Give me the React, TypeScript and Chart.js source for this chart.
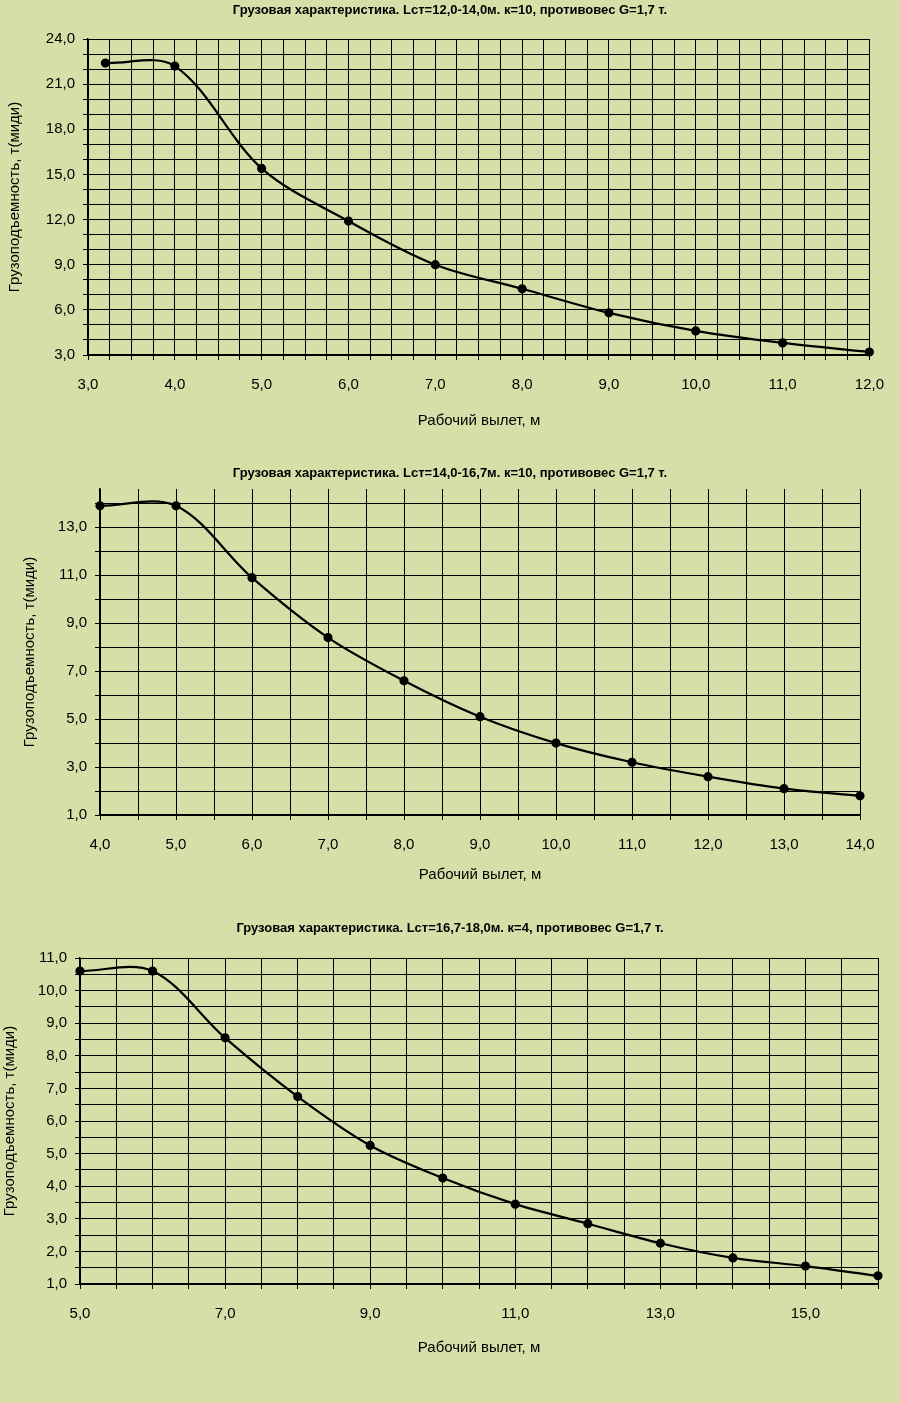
import React, { useEffect, useRef } from "react";
import { Chart, registerables } from "chart.js";
Chart.register(...registerables);

const BG = "#d8dea8";
const XTITLE = "Рабочий вылет, м";
const YTITLE = "Грузоподъемность, т(миди)";

const title1 = "Грузовая характеристика. Lст=12,0-14,0м. к=10, противовес G=1,7 т.";
const x1 = [3.2, 4, 5, 6, 7, 8, 9, 10, 11, 12];
const y1 = [22.4, 22.2, 15.4, 11.9, 9.0, 7.4, 5.8, 4.6, 3.8, 3.2];

const title2 = "Грузовая характеристика. Lст=14,0-16,7м. к=10, противовес G=1,7 т.";
const x2 = [4, 5, 6, 7, 8, 9, 10, 11, 12, 13, 14];
const y2 = [13.9, 13.9, 10.9, 8.4, 6.6, 5.1, 4.0, 3.2, 2.6, 2.1, 1.8];

const title3 = "Грузовая характеристика. Lст=16,7-18,0м. к=4, противовес G=1,7 т.";
const x3 = [5, 6, 7, 8, 9, 10, 11, 12, 13, 14, 15, 16];
const y3 = [10.6, 10.6, 8.55, 6.75, 5.25, 4.25, 3.45, 2.85, 2.25, 1.8, 1.55, 1.25];

type Cfg = {
  title: string; xs: number[]; ys: number[];
  top: number; height: number; pl: number; pr: number; pt: number; pb: number;
  xmin: number; xmax: number; xgrid: number; xlab: number;
  ymin: number; ymax: number; ygrid: number; ylab: number; ylabStart: number; ylabEnd: number;
  titleY: number; xTitleY: number; yTitleX: number;
};

const fmt = (v: number) => v.toFixed(1).replace(".", ",");

function Panel(c: Cfg) {
  const ref = useRef<HTMLCanvasElement>(null);
  useEffect(() => {
    const textPlugin = {
      id: "texts",
      afterDraw(ch: any) {
        const ctx = ch.ctx;
        ctx.save();
        ctx.fillStyle = "#000";
        ctx.textAlign = "center";
        ctx.textBaseline = "middle";
        ctx.font = "bold 13px Arial, 'Liberation Sans'";
        ctx.fillText(c.title, 450, c.titleY - c.top);
        ctx.font = "15px Arial, 'Liberation Sans'";
        ctx.fillText(XTITLE, (c.pl + c.pr) / 2, c.xTitleY - c.top);
        ctx.translate(c.yTitleX, (c.pt + c.pb) / 2 - c.top);
        ctx.rotate(-Math.PI / 2);
        ctx.fillText(YTITLE, 0, 0);
        ctx.restore();
      },
    };
    const mkTicks = (min: number, max: number, step: number) => {
      const t: any[] = [];
      for (let v = min; v <= max + 1e-9; v += step) t.push({ value: Math.round(v * 1000) / 1000 });
      return t;
    };
    const ch = new Chart(ref.current!, {
      type: "line",
      data: {
        datasets: [{
          data: c.xs.map((x, i) => ({ x, y: c.ys[i] })),
          borderColor: "#000", backgroundColor: "#000", borderWidth: 2.2,
          pointRadius: 3.5, tension: 0.33, fill: false, clip: false,
        }],
      },
      options: {
        animation: false, responsive: false,
        layout: { padding: { top: c.pt - c.top, right: 900 - c.pr, left: 0, bottom: 0 } },
        plugins: { legend: { display: false }, tooltip: { enabled: false } },
        scales: {
          x: {
            type: "linear", min: c.xmin, max: c.xmax,
            afterBuildTicks: (s: any) => { s.ticks = mkTicks(c.xmin, c.xmax, c.xgrid); },
            afterFit: (s: any) => { s.height = c.height - (c.pb - c.top); },
            grid: { color: "#000", lineWidth: 1, drawTicks: true, tickLength: 5 },
            border: { color: "#000", width: 1.5 },
            ticks: {
              autoSkip: false, maxRotation: 0, padding: 16, color: "#000", font: { size: 15, family: "Arial, 'Liberation Sans'" },
              callback: (v: any) => {
                const k = (v - c.xmin) / c.xlab;
                return Math.abs(k - Math.round(k)) < 1e-6 ? fmt(v) : "";
              },
            },
          },
          y: {
            type: "linear", min: c.ymin, max: c.ymax,
            afterBuildTicks: (s: any) => { s.ticks = mkTicks(c.ymin, c.ymax, c.ygrid); },
            afterFit: (s: any) => { s.width = c.pl; },
            grid: { color: "#000", lineWidth: 1, tickLength: 5 },
            border: { color: "#000", width: 1.5 },
            ticks: {
              autoSkip: false, padding: 8, color: "#000", font: { size: 15, family: "Arial, 'Liberation Sans'" },
              callback: (v: any) => {
                const k = (v - c.ylabStart) / c.ylab;
                return v >= c.ylabStart - 1e-6 && v <= c.ylabEnd + 1e-6 && Math.abs(k - Math.round(k)) < 1e-6 ? fmt(v) : "";
              },
            },
          },
        },
      },
      plugins: [textPlugin],
    } as any);
    return () => ch.destroy();
  }, []);
  return <canvas ref={ref} width={900} height={c.height}
    style={{ position: "absolute", left: 0, top: c.top, width: 900, height: c.height }} />;
}

export default function App() {
  return (
    <div style={{ position: "absolute", left: 0, top: 0, width: 900, height: 1403, background: BG }}>
      <Panel title={title1} xs={x1} ys={y1} top={0} height={460} pl={88} pr={870} pt={39} pb={355}
        xmin={3} xmax={12} xgrid={0.25} xlab={1} ymin={3} ymax={24} ygrid={1} ylab={3} ylabStart={3} ylabEnd={24}
        titleY={10} xTitleY={421} yTitleX={15} />
      <Panel title={title2} xs={x2} ys={y2} top={460} height={445} pl={100} pr={860} pt={489} pb={815}
        xmin={4} xmax={14} xgrid={0.5} xlab={1} ymin={1} ymax={14.6} ygrid={1} ylab={2} ylabStart={1} ylabEnd={13}
        titleY={473} xTitleY={875} yTitleX={30} />
      <Panel title={title3} xs={x3} ys={y3} top={905} height={498} pl={80} pr={878} pt={958} pb={1284}
        xmin={5} xmax={16} xgrid={0.5} xlab={2} ymin={1} ymax={11} ygrid={0.5} ylab={1} ylabStart={1} ylabEnd={11}
        titleY={928} xTitleY={1348} yTitleX={10} />
    </div>
  );
}
